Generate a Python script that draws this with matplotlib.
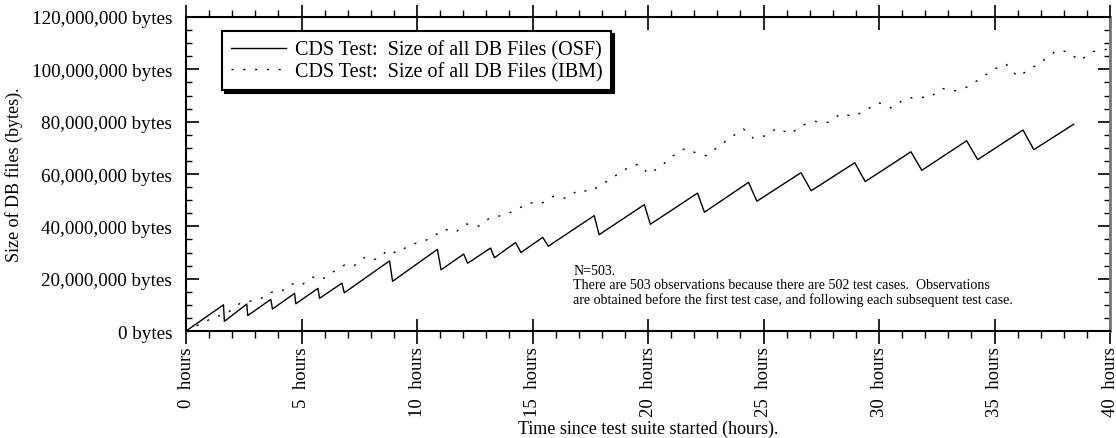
import matplotlib
matplotlib.use("Agg")
import matplotlib.pyplot as plt
from matplotlib.ticker import MultipleLocator, FuncFormatter

plt.rcParams["font.family"] = ["Liberation Serif", "DejaVu Serif"]

# OSF: total size of DB files (millions of bytes) vs hours
osf_hours = [0, 1.62, 1.66, 2.63, 2.67, 3.67, 3.74, 4.70, 4.75, 5.71, 5.78,
             6.75, 6.85, 8.81, 8.94, 10.88, 11.04, 12.02, 12.19, 13.18, 13.35,
             14.26, 14.50, 15.44, 15.68, 17.67, 17.88, 19.84, 20.10, 22.14,
             22.44, 24.35, 24.71, 26.62, 27.06, 28.95, 29.40, 31.38, 31.85,
             33.79, 34.27, 36.23, 36.70, 38.42]
osf_mb = [0, 10.0, 3.7, 10.3, 5.9, 12.1, 8.4, 14.4, 10.4, 16.3, 12.5,
          18.3, 14.6, 26.8, 19.0, 31.2, 23.4, 29.4, 25.9, 31.7, 28.0,
          33.8, 30.0, 35.8, 32.4, 44.1, 36.8, 48.3, 40.8, 52.7,
          45.4, 56.8, 49.6, 60.5, 53.6, 64.3, 57.1, 68.5, 61.4,
          72.7, 65.5, 76.8, 69.3, 79.0]

# IBM: same measure
ibm_hours = [0, 1.20, 1.76, 2.34, 3.21, 3.64, 4.07, 4.58, 4.94, 5.49, 5.85,
             6.39, 6.86, 7.23, 7.79, 8.24, 8.77, 9.13, 9.68, 10.11, 10.61,
             11.15, 11.66, 12.14, 12.65, 13.18, 13.73, 14.23, 14.84, 15.34,
             15.90, 16.45, 17.01, 17.49, 18.04, 18.60, 19.15, 19.60, 20.03,
             20.55, 21.09, 21.61, 22.09, 22.52, 23.09, 23.58, 24.13,
             24.56, 25.07, 25.60, 26.15, 26.69, 27.23, 27.77, 28.35, 28.90,
             29.43, 29.97, 30.55, 31.09, 31.64, 32.17, 32.73, 33.29, 33.84,
             34.39, 34.99, 35.50, 36.00, 36.55, 37.12, 37.67, 38.17, 38.68,
             39.26, 39.90]
ibm_mb = [0, 5.2, 6.7, 10.6, 12.2, 14.8, 14.8, 18.0, 17.2, 20.6, 19.5,
          22.7, 25.2, 24.6, 28.5, 27.3, 31.1, 29.7, 32.9, 33.9, 35.4,
          39.0, 37.7, 40.9, 40.0, 43.4, 44.2, 46.0, 49.1, 48.5,
          51.5, 50.7, 54.0, 53.2, 56.2, 59.4, 62.5, 63.8, 60.0,
          62.9, 67.0, 69.8, 68.0, 67.0, 70.8, 74.0, 77.2,
          73.6, 74.6, 77.6, 75.3, 78.7, 80.1, 79.7, 83.1, 82.0,
          84.4, 87.3, 85.2, 88.6, 89.5, 89.1, 92.7, 91.8, 93.3,
          96.5, 100.1, 102.0, 97.2, 100.1, 103.5, 107.1, 106.8, 103.3,
          106.8, 107.7]

x_ticks = list(range(0, 41, 5))
y_ticks = list(range(0, 120000001, 20000000))

fig = plt.figure(figsize=(11.16, 4.39), dpi=100)
ax = fig.add_axes([0.1667, 0.2437, 0.828, 0.7153])

ax.plot(osf_hours, [v * 1e6 for v in osf_mb], color="black", lw=1.0,
        label="CDS Test:  Size of all DB Files (OSF)")
ax.plot(ibm_hours, [v * 1e6 for v in ibm_mb], color="black", lw=1.0,
        linestyle=(0, (1.5, 7)),
        label="CDS Test:  Size of all DB Files (IBM)")

ax.set_xlim(0, 40)
ax.set_ylim(0, 120000000)
ax.set_xticks(x_ticks)
ax.set_yticks(y_ticks)
ax.xaxis.set_minor_locator(MultipleLocator(1))
ax.yaxis.set_minor_locator(MultipleLocator(5000000))
ax.xaxis.set_major_formatter(FuncFormatter(lambda v, p: "{:d}  hours".format(int(v))))
ax.yaxis.set_major_formatter(FuncFormatter(lambda v, p: "{:,} bytes".format(int(v))))
for lab in ax.get_xticklabels():
    lab.set_rotation(90)

ax.tick_params(axis="x", which="major", direction="inout", length=18, width=1.2,
               top=True, labelsize=13.5, pad=2)
ax.tick_params(axis="x", which="minor", direction="out", length=5, width=1.0, top=True)
ax.tick_params(axis="y", which="major", direction="in", length=9, width=1.2,
               right=True, labelsize=13.8, pad=10)
ax.tick_params(axis="y", which="minor", direction="in", length=4, width=1.0, right=True)

for s in ["left", "top", "bottom"]:
    ax.spines[s].set_linewidth(1.5)
ax.spines["right"].set_linewidth(2)
ax.spines["right"].set_color("#777777")

ax.set_xlabel("Time since test suite started (hours).", fontsize=13)
ax.xaxis.set_label_coords(0.5, -0.282)
ax.set_ylabel("Size of DB files (bytes).", fontsize=13)
ax.yaxis.set_label_coords(-0.176, 0.5)

leg = ax.legend(loc="upper left", bbox_to_anchor=(0.039, 0.955), borderaxespad=0,
                fontsize=14.5, fancybox=False, frameon=True, edgecolor="black",
                shadow={"color": "black", "alpha": 1}, handlelength=2.7,
                handletextpad=0.45, labelspacing=0.1, borderpad=0.45)
leg.get_frame().set_linewidth(1.5)

ax.text(0.419, 0.215,
        "N=503.\nThere are 503 observations because there are 502 test cases.  Observations\n"
        "are obtained before the first test case, and following each subsequent test case.",
        transform=ax.transAxes, fontsize=10.1, va="top", ha="left", linespacing=1.15)

fig.savefig("out.png", dpi=100)
